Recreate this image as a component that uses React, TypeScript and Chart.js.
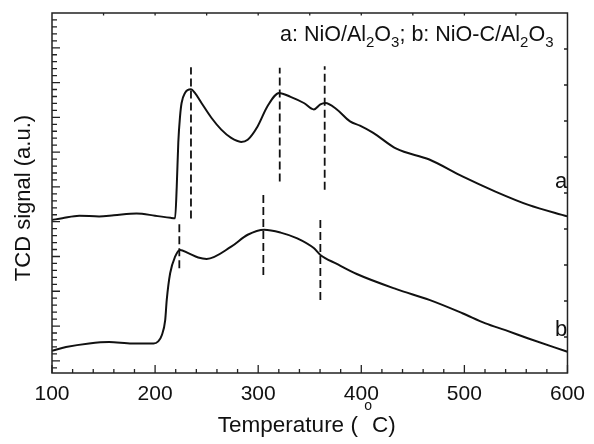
import React, { useEffect, useRef } from "react";
import { Chart, registerables } from "chart.js";

Chart.register(...registerables);

// Curve a: NiO/Al2O3 (temperature in °C, TCD signal in arbitrary units)
const tempA = [100, 110, 126.5, 145.7, 160, 182, 200, 215, 219.4, 221, 222.5, 224.2, 225.7, 229, 234.8, 238.6, 245, 254.6, 264.2, 273.8, 283.4, 289.8, 299.4, 309, 320.3, 331.4, 344.3, 354, 360.3, 365.1, 376.3, 389.1, 398.7, 411.6, 434, 466, 498.1, 530.1, 562.1, 600];
const signalA = [4.25, 4.3, 4.37, 4.35, 4.38, 4.43, 4.37, 4.31, 4.3, 5.18, 6.4, 7.13, 7.5, 7.78, 7.88, 7.78, 7.5, 7.09, 6.76, 6.53, 6.42, 6.48, 6.85, 7.41, 7.78, 7.67, 7.5, 7.32, 7.46, 7.5, 7.32, 6.99, 6.87, 6.67, 6.23, 5.93, 5.46, 5.04, 4.67, 4.35];

// Curve b: NiO-C/Al2O3
const tempB = [100, 113.6, 136, 155.3, 177.7, 198.5, 203, 206.5, 209.8, 211.3, 214.6, 219.4, 224.2, 232.2, 241.8, 250, 273.8, 289.8, 305.9, 321.8, 337.9, 353.9, 360.3, 376.3, 395.6, 434, 466, 498.1, 520.5, 539.8, 562.1, 600];
const signalB = [0.62, 0.72, 0.82, 0.86, 0.82, 0.82, 0.88, 1.05, 1.47, 2.03, 2.77, 3.23, 3.42, 3.33, 3.21, 3.17, 3.51, 3.84, 3.98, 3.9, 3.74, 3.47, 3.28, 3.03, 2.75, 2.33, 2.03, 1.66, 1.38, 1.19, 0.96, 0.59];

// Dashed peak markers
const peakTempA = [234.8, 320.9, 364.5];
const peakTopA = [8.49, 8.48, 8.52];
const peakBottomA = [4.29, 5.32, 5.09];
const peakTempB = [223.5, 305, 360.3];
const peakTopB = [4.21, 5.04, 4.35];
const peakBottomB = [2.91, 2.72, 2.03];

const xTickValues = [100, 200, 300, 400, 500, 600];
const yTitle = "TCD signal (a.u.)";
const seriesLabels = ["a", "b"];
const labelSignal = [5.3, 1.2];

const FONT = "'Liberation Sans', Arial, Helvetica, sans-serif";
const INK = "#111111";

function App() {
  const ref = useRef<HTMLCanvasElement | null>(null);

  useEffect(() => {
    const canvas = ref.current;
    if (!canvas) return;

    const dashSets: any[] = [];
    const addDash = (t: number, top: number, bottom: number) => {
      dashSets.push({
        data: [
          { x: t, y: bottom },
          { x: t, y: top },
        ],
        borderColor: INK,
        borderWidth: 1.8,
        borderDash: [8, 4],
        pointRadius: 0,
        tension: 0,
      });
    };
    peakTempA.forEach((t, i) => addDash(t, peakTopA[i], peakBottomA[i]));
    peakTempB.forEach((t, i) => addDash(t, peakTopB[i], peakBottomB[i]));

    const deco = {
      id: "deco",
      afterDatasetsDraw(chart: any) {
        const { ctx, chartArea } = chart;
        const { left, right, top, bottom } = chartArea;
        const xs = chart.scales.x;
        const ys = chart.scales.y;
        const yl = chart.scales.yL;
        ctx.save();
        ctx.strokeStyle = "#222222";
        ctx.lineWidth = 1.5;
        ctx.strokeRect(left, top, right - left, bottom - top);
        ctx.lineWidth = 1.3;
        ctx.beginPath();
        // bottom ticks
        for (let t = 100; t <= 600; t += 20) {
          const px = xs.getPixelForValue(t);
          const len = t % 100 === 0 ? 8 : 4;
          ctx.moveTo(px, bottom);
          ctx.lineTo(px, bottom - len);
        }
        // top ticks
        for (let t = 150; t < 600; t += 50) {
          const px = xs.getPixelForValue(t);
          ctx.moveTo(px, top);
          ctx.lineTo(px, top + 2.5);
        }
        // left ticks
        for (let k = -1; k <= 50; k++) {
          const v = k * 0.2;
          const py = yl.getPixelForValue(v);
          if (py < top + 1 || py > bottom - 1) continue;
          const len = k % 5 === 0 ? 8 : 5;
          ctx.moveTo(left, py);
          ctx.lineTo(left + len, py);
        }
        // right ticks
        for (let v = 1; v <= 9; v++) {
          const py = ys.getPixelForValue(v);
          ctx.moveTo(right, py);
          ctx.lineTo(right - 3.5, py);
        }
        ctx.stroke();

        ctx.fillStyle = INK;
        // legend text with subscripts
        const parts: [string, boolean][] = [
          ["a: NiO/Al", false],
          ["2", true],
          ["O", false],
          ["3", true],
          ["; b: NiO-C/Al", false],
          ["2", true],
          ["O", false],
          ["3", true],
        ];
        let x = 280;
        ctx.textBaseline = "alphabetic";
        ctx.textAlign = "left";
        for (const [s, sub] of parts) {
          ctx.font = sub ? `15px ${FONT}` : `21.5px ${FONT}`;
          ctx.fillText(s, x, sub ? 47 : 41);
          x += ctx.measureText(s).width;
        }

        // series labels
        ctx.font = `22px ${FONT}`;
        seriesLabels.forEach((s, i) => {
          ctx.fillText(s, 555, ys.getPixelForValue(labelSignal[i]) + 6);
        });

        // x title with superscript o
        const t1 = "Temperature ( ";
        const t2 = "o";
        const t3 = "C)";
        ctx.font = `22.5px ${FONT}`;
        const w1 = ctx.measureText(t1).width;
        const w3 = ctx.measureText(t3).width;
        ctx.font = `14px ${FONT}`;
        const w2 = ctx.measureText(t2).width;
        const total = w1 + w2 + w3;
        let tx = (left + right) / 2 - total / 2 - 3;
        ctx.font = `22.5px ${FONT}`;
        ctx.fillText(t1, tx, 432);
        tx += w1;
        ctx.font = `14px ${FONT}`;
        ctx.fillText(t2, tx, 410);
        tx += w2;
        ctx.font = `22.5px ${FONT}`;
        ctx.fillText(t3, tx, 432);

        // y title
        ctx.save();
        ctx.translate(29.5, 198);
        ctx.rotate(-Math.PI / 2);
        ctx.textAlign = "center";
        ctx.font = `22px ${FONT}`;
        ctx.fillText(yTitle, 0, 0);
        ctx.restore();

        ctx.restore();
      },
    };

    const chart = new Chart(canvas, {
      type: "line",
      data: {
        datasets: [
          {
            data: tempA.map((t, i) => ({ x: t, y: signalA[i] })),
            borderColor: INK,
            borderWidth: 2,
            pointRadius: 0,
            cubicInterpolationMode: "monotone",
          },
          {
            data: tempB.map((t, i) => ({ x: t, y: signalB[i] })),
            borderColor: INK,
            borderWidth: 2,
            pointRadius: 0,
            cubicInterpolationMode: "monotone",
          },
          ...dashSets,
        ],
      },
      options: {
        animation: false,
        responsive: false,
        layout: { padding: { left: 52, right: 21, top: 13, bottom: 0 } },
        plugins: {
          legend: { display: false },
          tooltip: { enabled: false },
        },
        scales: {
          x: {
            type: "linear",
            min: 100,
            max: 600,
            afterFit: (s: any) => {
              s.height = 71;
            },
            afterBuildTicks: (s: any) => {
              s.ticks = xTickValues.map((v) => ({ value: v }));
            },
            grid: { display: false, drawTicks: false },
            border: { display: false },
            ticks: {
              padding: 9,
              color: INK,
              font: { family: FONT, size: 21 },
              maxRotation: 0,
            },
          },
          y: {
            type: "linear",
            min: 0,
            max: 10,
            display: false,
          },
          yL: {
            type: "linear",
            min: -0.35,
            max: 10,
            display: false,
          },
        },
      },
      plugins: [deco],
    });

    return () => chart.destroy();
  }, []);

  return (
    <div style={{ position: "fixed", left: 0, top: 0, width: 594, height: 444, background: "#fff" }}>
      <canvas ref={ref} width={594} height={444} style={{ display: "block" }} />
    </div>
  );
}

export default App;
